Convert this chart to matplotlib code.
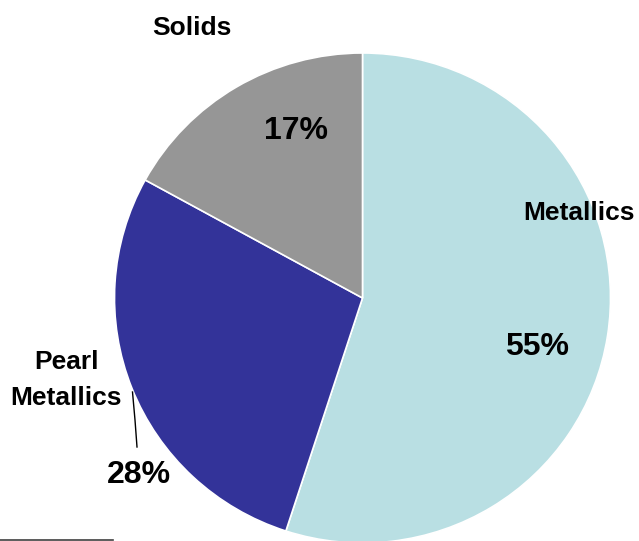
import matplotlib.pyplot as plt

labels = ['Metallics', 'Pearl\nMetallics', 'Solids']
shares = [55, 28, 17]
colors = ['#B9DFE3', '#333399', '#969696']

plt.rcParams['font.family'] = ['Liberation Sans', 'DejaVu Sans']
plt.rcParams['font.weight'] = 'bold'

W, H = 639, 541
fig = plt.figure(figsize=(W / 100, H / 100), dpi=100)
ax = fig.add_axes([0, 0, 1, 1])
ax.axis('off')

# pie in pixel-like units; y squeezed a little (reference is slightly oval)
cx, cy, rx, ry = 362.5, 298, 248, 245
sy = rx / ry
ax.pie(shares, colors=colors, startangle=90, counterclock=False,
       center=(cx, (H - cy) * sy), radius=rx,
       wedgeprops=dict(edgecolor='white', linewidth=1.2))
ax.set_aspect('auto')
ax.set_xlim(0, W)
ax.set_ylim(0, H * sy)


def px(x, y):
    return x / W, 1 - y / H


# label positions (pixels from top-left)
name_pos = [(579, 213), (66, 380), (192, 28)]
pct_pos = [(537, 347), (139, 475), (296, 131)]
for name, p, npos, ppos in zip(labels, shares, name_pos, pct_pos):
    fig.text(*px(*npos), name, ha='center', va='center', fontsize=19,
             fontweight='bold', linespacing=1.6)
    fig.text(*px(*ppos), f'{p}%', ha='center', va='center', fontsize=23,
             fontweight='bold')

# leader line for Pearl Metallics
ax.plot([132.5, 135, 137], [(H - 392) * sy, (H - 420) * sy, (H - 447) * sy],
        color='black', lw=1)
# footnote rule
ax.plot([0, 113], [(H - 540) * sy] * 2, color='#404040', lw=1.2, clip_on=False)

fig.savefig('out.png', dpi=100)
